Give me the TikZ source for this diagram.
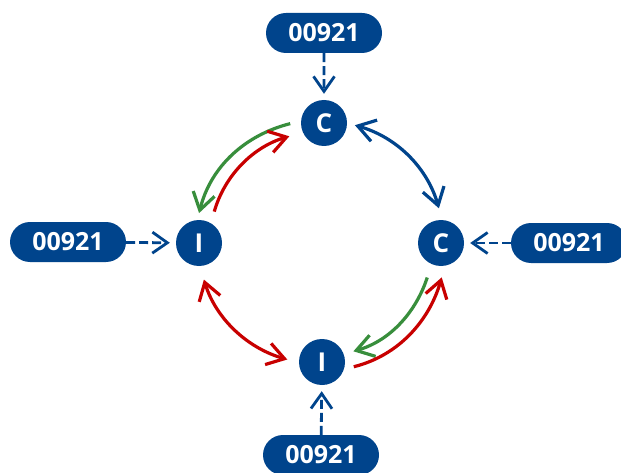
\documentclass[tikz,border=0pt]{standalone}
\usepackage{fontspec}
\setmainfont{Open Sans}
\usetikzlibrary{arrows.meta,shapes.misc}
\definecolor{dblue}{RGB}{0,68,140}
\definecolor{dgreen}{RGB}{56,142,60}
\definecolor{dred}{RGB}{200,0,0}
\begin{document}
\begin{tikzpicture}[x=1pt,y=1pt,
  circ/.style={circle,fill=dblue,text=white,minimum size=46pt,inner sep=0pt,font=\fontsize{26}{26}\selectfont\bfseries},
  pill/.style={rounded rectangle,fill=dblue,text=white,minimum width=116pt,minimum height=40pt,inner sep=0pt,font=\fontsize{25}{25}\selectfont\bfseries},
  tip/.style={-{Straight Barb[length=17pt,width=22pt]}},
  tips/.style={{Straight Barb[length=17pt,width=22pt]}-{Straight Barb[length=17pt,width=22pt]}},
  curv/.style={line width=3.2pt},
  dasharrow/.style={dblue,line width=2.8pt,dash pattern=on 9pt off 4pt,-{Straight Barb[length=15pt,width=21pt]},shorten >=6pt}
]
\clip (0,0) rectangle (621,472);
\fill[white] (0,0) rectangle (621,472);
\node[circ] (ctop) at (324,349) {C};
\node[circ] (ileft) at (199,229) {I};
\node[circ] (cright) at (441,229) {C};
\node[circ] (ibot) at (322,110) {I};
\node[pill] (btop) at (324,439) {00921};
\node[pill] (bleft) at (68,230) {00921};
\node[pill] (bright) at (569,229) {00921};
\node[pill] (bbot) at (321,17) {00921};
\draw[dasharrow] (btop) -- (ctop);
\draw[dasharrow] (bleft) -- (ileft);
\draw[dasharrow] (bright) -- (cright);
\draw[dasharrow] (bbot) -- (ibot);
% top-left pair
\draw[curv,dgreen,tip,shorten <=11pt,shorten >=7pt] (ctop.175) to[out=194,in=76] (ileft.94);
\draw[curv,dred,tip,shorten <=12pt,shorten >=14pt] (ileft.59) to[out=74,in=196] (ctop.204);
% top-right
\draw[curv,dblue,tips,shorten <=8pt,shorten >=12pt] (ctop.0) to[out=-16,in=106] (cright.87);
% bottom-left
\draw[curv,dred,tips,shorten <=14pt,shorten >=12pt] (ileft.-88) to[out=-73,in=164] (ibot.182);
% bottom-right pair
\draw[curv,dgreen,tip,shorten <=14pt,shorten >=10pt] (cright.-114) to[out=-108,in=16] (ibot.20);
\draw[curv,dred,tip,shorten <=10pt,shorten >=12pt] (ibot.-18) to[out=14,in=254] (cright.-80);
\end{tikzpicture}
\end{document}
